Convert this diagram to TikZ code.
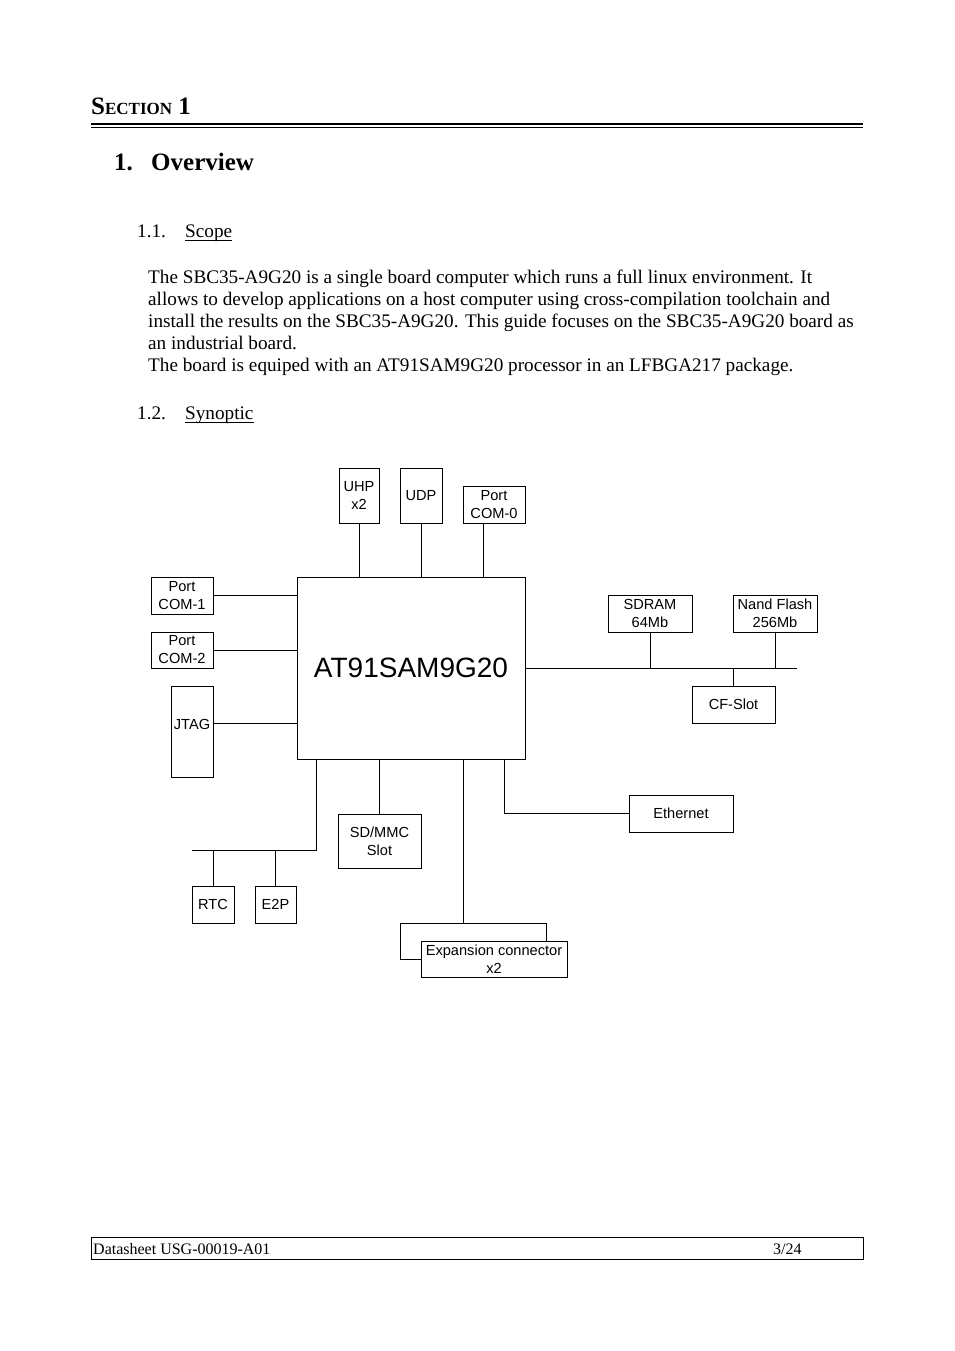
\documentclass[tikz,border=0pt]{standalone}
\usepackage{fontspec}
\setmainfont{Liberation Serif}
\newfontfamily\arial{Liberation Sans}
\begin{document}
\begin{tikzpicture}[x=1pt,y=-1pt,
  box/.style={draw, line width=1pt, inner sep=0pt, align=center, fill=white,
    font=\arial\fontsize{14.6}{18}\selectfont},
  wire/.style={line width=1pt},
  txt/.style={inner sep=0pt, anchor=base west, font=\fontsize{19.2}{22}\selectfont},
  foot/.style={inner sep=0pt, anchor=base west, font=\fontsize{16}{18}\selectfont}]
\useasboundingbox[fill=white] (0,0) rectangle (954,1351);

% header
\node[inner sep=0pt, anchor=base west, font=\bfseries] (sec) at (91,115)
  {\fontsize{25}{25}\selectfont S\fontsize{17}{17}\selectfont ECTION\fontsize{25}{25}\selectfont{} 1};
\draw[line width=2pt] (91,124) -- (863,124);
\draw[line width=1pt] (91,128) -- (863,128);
\node[inner sep=0pt, anchor=base west, font=\bfseries\fontsize{25}{25}\selectfont] (ovn) at (114,171) {1.};
\node[inner sep=0pt, anchor=base west, font=\bfseries\fontsize{25}{25}\selectfont] (ov) at (151,171) {Overview};

% scope
\node[txt] (s11) at (137,237) {1.1.};
\node[txt] (scope) at (185,237) {Scope};
\draw[line width=1pt] ([yshift=-3.5pt]scope.base west) -- ([yshift=-3.5pt]scope.base east);
\node[txt] (p1) at (148,283) {The SBC35-A9G20 is a single board computer which runs a full linux environment. It};
\node[txt] (p2) at (148,305) {allows to develop applications on a host computer using cross-compilation toolchain and};
\node[txt] (p3) at (148,327) {install the results on the SBC35-A9G20. This guide focuses on the SBC35-A9G20 board as};
\node[txt] (p4) at (148,349) {an industrial board.};
\node[txt] (p5) at (148,371) {The board is equiped with an AT91SAM9G20 processor in an LFBGA217 package.};

% synoptic
\node[txt] (s12) at (137,419) {1.2.};
\node[txt] (syn) at (185,419) {Synoptic};
\draw[line width=1pt] ([yshift=-3.5pt]syn.base west) -- ([yshift=-3.5pt]syn.base east);

% diagram boxes
\node[box, minimum width=40, minimum height=55] (uhp) at (359,495.5) {UHP\\x2};
\node[box, minimum width=42, minimum height=55] (udp) at (421,495.5) {UDP};
\node[box, minimum width=62, minimum height=37] (com0) at (494,504.5) {Port\\COM-0};
\node[box, minimum width=228, minimum height=182, font=\arial\fontsize{28}{30}\selectfont] (cpu) at (411,668) {AT91SAM9G20};
\node[box, minimum width=62, minimum height=37] (com1) at (182,595.5) {Port\\COM-1};
\node[box, minimum width=62, minimum height=36] (com2) at (182,650) {Port\\COM-2};
\node[box, minimum width=42, minimum height=91] (jtag) at (192,731.5) {\raisebox{2.5pt}[0pt][0pt]{JTAG}};
\node[box, minimum width=84, minimum height=37] (sdram) at (650,613.5) {SDRAM\\64Mb};
\node[box, minimum width=84, minimum height=37] (nand) at (775,613.5) {Nand Flash\\256Mb};
\node[box, minimum width=83, minimum height=37] (cf) at (733.5,704.5) {CF-Slot};
\node[box, minimum width=104, minimum height=37] (eth) at (681,813.5) {Ethernet};
\node[box, minimum width=83, minimum height=54] (sdmmc) at (379.5,841) {SD/MMC\\Slot};
\node[box, minimum width=42, minimum height=37] (rtc) at (213,904.5) {RTC};
\node[box, minimum width=41, minimum height=37] (e2p) at (275.5,904.5) {E2P};
\node[box, minimum width=146, minimum height=36] (expb) at (473,941) {};
\node[box, minimum width=146, minimum height=36] (expf) at (494,959) {Expansion connector\\x2};

\coordinate (busR) at (797,668);
\coordinate (busL) at (192,850);

% connectors
\draw[wire] (uhp.south) -- (uhp.south |- cpu.north);
\draw[wire] (udp.south) -- (udp.south |- cpu.north);
\draw[wire] ([xshift=21pt]com0.south west) -- ([xshift=21pt]com0.south west |- cpu.north);
\draw[wire] (com1.east) -- (com1.east -| cpu.west);
\draw[wire] (com2.east) -- (com2.east -| cpu.west);
\draw[wire] ([yshift=8.5pt]jtag.east) -- ([yshift=8.5pt]jtag.east -| cpu.west);
\draw[wire] (cpu.east) -- (busR);
\draw[wire] (sdram.south) -- (sdram.south |- busR);
\draw[wire] (nand.south) -- (nand.south |- busR);
\draw[wire] (cf.north) -- (cf.north |- busR);
\draw[wire] (eth.west) -| ([xshift=207.5pt]cpu.south west);
\draw[wire] (sdmmc.north) -- (sdmmc.north |- cpu.south);
\draw[wire] ([xshift=20pt]cpu.south west) |- (busL);
\draw[wire] (rtc.north) -- (rtc.north |- busL);
\draw[wire] (e2p.north) -- (e2p.north |- busL);
\draw[wire] ([xshift=-10pt]expb.north) -- ([xshift=-10pt]expb.north |- cpu.south);

% footer
\draw[line width=1pt] (91,1237) rectangle (863,1259);
\node[foot] (f1) at (93,1254) {Datasheet USG-00019-A01};
\node[foot] (f2) at (773,1254) {3/24};
\end{tikzpicture}
\end{document}
